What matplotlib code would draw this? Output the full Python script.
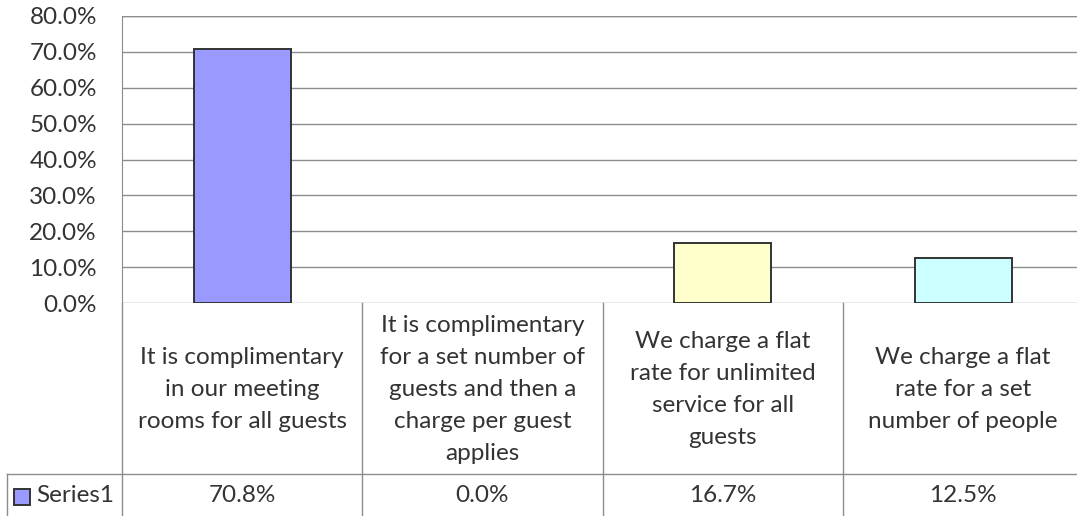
import matplotlib.pyplot as plt

categories = [
    "It is complimentary\nin our meeting\nrooms for all guests",
    "It is complimentary\nfor a set number of\nguests and then a\ncharge per guest\napplies",
    "We charge a flat\nrate for unlimited\nservice for all\nguests",
    "We charge a flat\nrate for a set\nnumber of people",
]
values = [70.8, 0.0, 16.7, 12.5]
value_labels = ["70.8%", "0.0%", "16.7%", "12.5%"]
series_name = "Series1"
bar_colors = ["#9999FF", "#993366", "#FFFFCC", "#CCFFFF"]
yticks = [0, 10, 20, 30, 40, 50, 60, 70, 80]

plt.rcParams["font.family"] = ["Lato", "DejaVu Sans"]
txt = "#333333"
grid = "#8C8C8C"
fs = 17.5

W, H = 1077, 516
fig = plt.figure(figsize=(W / 100, H / 100), dpi=100)

col = 240.3
x0 = 122
top, zero, rowline = 16, 303, 474

# main plot area
ax = fig.add_axes([x0 / W, (H - zero) / H, 4 * col / W, (zero - top) / H])
edges = ["#333333" if v > 0 else "none" for v in values]
ax.bar(range(4), values, width=0.404, color=bar_colors, edgecolor=edges,
       linewidth=1.4, zorder=3)
ax.set_xlim(-0.5, 3.5)
ax.set_ylim(0, 80)
ax.set_yticks(yticks)
ax.set_yticklabels([f"{t:.1f}%" for t in yticks], fontsize=fs, color=txt)
ax.tick_params(axis="y", length=0, pad=18)
ax.set_xticks([])
ax.grid(axis="y", color=grid, linewidth=1, zorder=0)
for s in ["top", "right", "bottom"]:
    ax.spines[s].set_visible(False)
ax.spines["left"].set_color(grid)
ax.axhline(80, color=grid, linewidth=1, zorder=0)

# data table below
tab = fig.add_axes([x0 / W, 0, 4 * col / W, (H - zero) / H])
tab.set_xlim(-0.5, 3.5)
tab.set_ylim(H, zero)
tab.axis("off")
left_edge = -0.5 - (x0 - 6.5) / col
for i in range(5):
    tab.plot([i - 0.5, i - 0.5], [zero, H], color=grid, lw=1, clip_on=False)
tab.plot([left_edge, 3.6], [rowline, rowline], color=grid, lw=1, clip_on=False)
tab.plot([left_edge, left_edge], [rowline, H], color=grid, lw=1, clip_on=False)

for i, (c, v) in enumerate(zip(categories, value_labels)):
    tab.text(i, (zero + rowline) / 2 + 1, c, ha="center", va="center",
             fontsize=fs, color=txt, linespacing=1.65)
    tab.text(i, 496, v, ha="center", va="center", fontsize=fs, color=txt)

tab.add_patch(plt.Rectangle((-0.5 - (x0 - 14) / col, 505), 16 / col, -16,
                            facecolor=bar_colors[0], edgecolor="#333333",
                            lw=1.4, clip_on=False))
tab.text(-0.5 - (x0 - 36) / col, 496, series_name, ha="left", va="center",
         fontsize=fs, color=txt, clip_on=False)

fig.savefig("out.png", dpi=100)
